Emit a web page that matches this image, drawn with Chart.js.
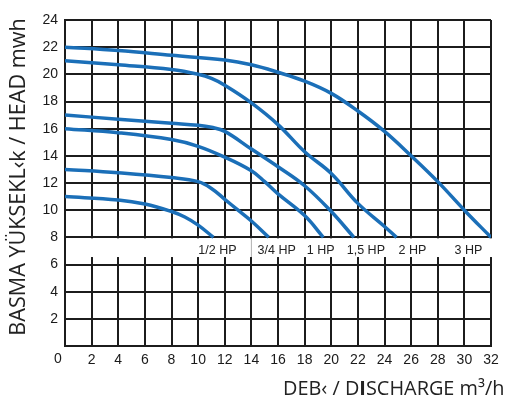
<!DOCTYPE html>
<html>
<head>
<meta charset="utf-8">
<script src="https://cdn.jsdelivr.net/npm/chart.js@4/dist/chart.umd.min.js"></script>
<style>
html, body { margin: 0; padding: 0; background: #fff; }
</style>
</head>
<body>
<canvas id="pump" width="510" height="399"></canvas>
<script>
// pump curves, flow in m3/h, head in m
const qHalf = [0, 4, 6, 8, 9, 10, 11.15];
const hHalf = [11, 10.75, 10.45, 9.9, 9.5, 8.9, 8];

const qThreeQ = [0, 4, 8, 10, 11, 12, 13, 14, 15.3];
const hThreeQ = [13, 12.75, 12.4, 12.1, 11.6, 10.8, 10.0, 9.2, 8];

const qOne = [0, 4, 8, 10, 12, 14, 15, 16, 18, 19.4];
const hOne = [16, 15.7, 15.2, 14.7, 13.9, 12.9, 12.1, 11.2, 9.6, 8];

const qOneHalf = [0, 4, 8, 10, 11, 12, 14, 16, 18, 20, 21.7];
const hOneHalf = [17, 16.7, 16.4, 16.25, 16.1, 15.8, 14.5, 13.2, 11.8, 9.9, 8];

const qTwo = [0, 4, 8, 10, 11, 12, 14, 16, 18, 20, 22, 24, 24.9];
const hTwo = [21, 20.7, 20.35, 20, 19.7, 19.2, 17.9, 16.3, 14.3, 12.7, 10.5, 8.8, 8];

const qThree = [0, 4, 8, 12, 14, 16, 18, 20, 22, 24, 26, 28, 30, 32];
const hThree = [22, 21.75, 21.4, 21.05, 20.7, 20.15, 19.5, 18.6, 17.3, 15.8, 14, 12.1, 10, 8];

const hpNames = ['1/2 HP', '3/4 HP', '1 HP', '1,5 HP', '2 HP', '3 HP'];
const hpLabelX = [11.45, 15.9, 19.2, 22.6, 26.1, 30.3];

const yTitle = 'BASMA YÜKSEKL‹k / HEAD mwh';

const blue = '#1b6fb8';
const gridCol = '#1c1c1c';

function pts(xs, ys) {
    return xs.map((v, i) => ({x: v, y: ys[i]}));
}

function curve(label, xs, ys) {
    return {
        label: label,
        data: pts(xs, ys),
        borderColor: blue,
        borderWidth: 3.5,
        pointRadius: 0,
        fill: false,
        tension: 0.4,
        borderCapStyle: 'butt'
    };
}

const extras = {
    id: 'extras',
    beforeDatasetsDraw(chart) {
        const {ctx, scales: {x, y}} = chart;
        const top = y.getPixelForValue(8) + 1;
        const bot = y.getPixelForValue(6.55);
        const left = x.getPixelForValue(0) + 1;
        const right = x.getPixelForValue(32) + 2;
        ctx.save();
        ctx.fillStyle = '#fff';
        ctx.fillRect(left, top, right - left, bot - top);
        const gx = x.getPixelForValue(14);
        ctx.strokeStyle = '#b0b0b0';
        ctx.lineWidth = 1;
        ctx.beginPath();
        ctx.moveTo(gx, top);
        ctx.lineTo(gx, bot);
        ctx.stroke();
        ctx.restore();
    },
    afterDraw(chart) {
        const {ctx, scales: {x, y}} = chart;
        ctx.save();
        ctx.fillStyle = '#222';
        ctx.font = '12.5px "Liberation Sans", Arial, sans-serif';
        ctx.textAlign = 'center';
        ctx.textBaseline = 'middle';
        hpNames.forEach((n, i) => {
            ctx.fillText(n, x.getPixelForValue(hpLabelX[i]), y.getPixelForValue(7.05));
        });

        // the 0 of the x axis sits a bit left of the corner
        ctx.font = '14px "Liberation Sans", Arial, sans-serif';
        ctx.fillStyle = '#1a1a1a';
        ctx.textBaseline = 'top';
        ctx.fillText('0', x.getPixelForValue(0) - 7, y.getPixelForValue(0) + 6);

        // y title
        ctx.fillStyle = '#222';
        ctx.font = '20px "Open Sans", sans-serif';
        let w = ctx.measureText(yTitle).width;
        let size = 20 * 317 / w;
        ctx.font = size.toFixed(1) + 'px "Open Sans", sans-serif';
        ctx.translate(19, 177);
        ctx.rotate(-Math.PI / 2);
        ctx.textAlign = 'center';
        ctx.textBaseline = 'middle';
        ctx.fillText(yTitle, 0, 0);
        ctx.restore();

        // x title, the I is printed heavier in the original
        ctx.save();
        ctx.fillStyle = '#222';
        ctx.textBaseline = 'alphabetic';
        ctx.textAlign = 'left';
        const parts = [['DEB‹ / D', ''], ['I', 'bold '], ['SCHARGE m³/h', '']];
        const fs = 20;
        let total = 0;
        parts.forEach(p => {
            ctx.font = p[1] + fs + 'px "Open Sans", sans-serif';
            total += ctx.measureText(p[0]).width;
        });
        const k = 222 / total;
        let px = 283;
        parts.forEach(p => {
            ctx.font = p[1] + (fs * k).toFixed(1) + 'px "Open Sans", sans-serif';
            ctx.fillText(p[0], px, 395);
            px += ctx.measureText(p[0]).width;
        });
        ctx.restore();
    }
};

new Chart(document.getElementById('pump'), {
    type: 'line',
    data: {
        datasets: [
            curve('1/2 HP', qHalf, hHalf),
            curve('3/4 HP', qThreeQ, hThreeQ),
            curve('1 HP', qOne, hOne),
            curve('1,5 HP', qOneHalf, hOneHalf),
            curve('2 HP', qTwo, hTwo),
            curve('3 HP', qThree, hThree)
        ]
    },
    options: {
        responsive: false,
        animation: false,
        devicePixelRatio: 1,
        layout: {padding: {left: 0, right: 19, top: 20, bottom: 0}},
        plugins: {legend: {display: false}, tooltip: {enabled: false}},
        scales: {
            x: {
                type: 'linear',
                min: 0,
                max: 32,
                ticks: {
                    stepSize: 2,
                    padding: 6,
                    color: '#1a1a1a',
                    font: {family: '"Liberation Sans", Arial, sans-serif', size: 14},
                    maxRotation: 0,
                    callback: v => v === 0 ? '' : v
                },
                grid: {color: gridCol, lineWidth: 2, drawTicks: false},
                border: {color: gridCol, width: 2},
                afterFit: s => { s.height = 53; }
            },
            y: {
                min: 0,
                max: 24,
                ticks: {
                    stepSize: 2,
                    padding: 7,
                    color: '#1a1a1a',
                    font: {family: '"Liberation Sans", Arial, sans-serif', size: 14},
                    callback: v => v === 0 ? '' : v
                },
                grid: {color: gridCol, lineWidth: 2, drawTicks: false},
                border: {color: gridCol, width: 2},
                afterFit: s => { s.width = 65; }
            }
        }
    },
    plugins: [extras]
});
</script>
</body>
</html>
